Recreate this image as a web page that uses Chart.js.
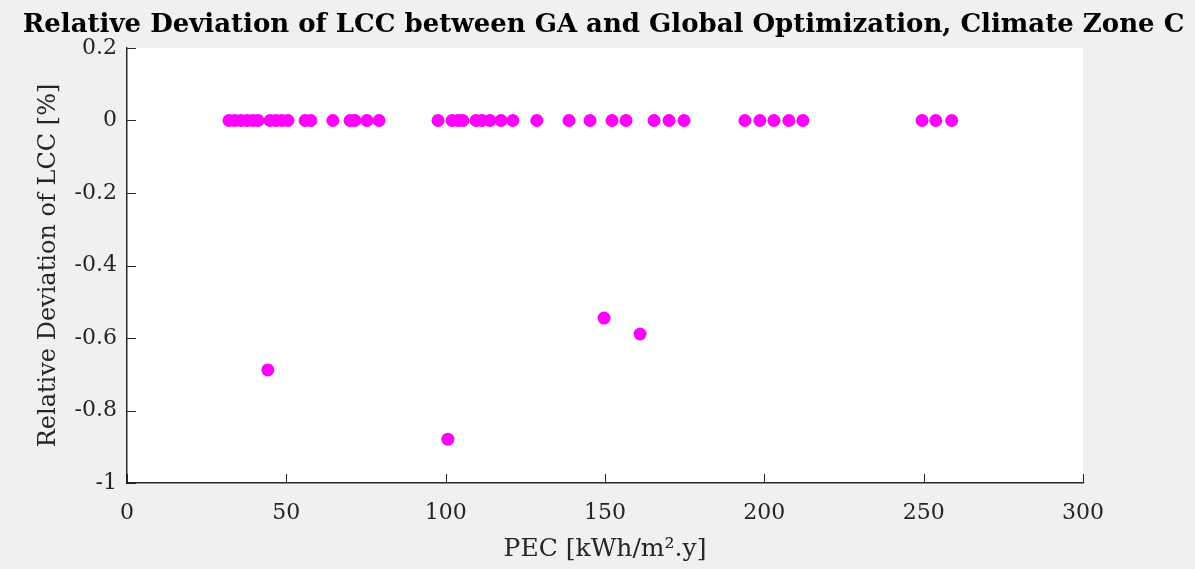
<!DOCTYPE html>
<html>
<head>
<meta charset="utf-8">
<script src="https://cdn.jsdelivr.net/npm/chart.js@4.4.0/dist/chart.umd.min.js"></script>
<style>
    html, body { margin: 0; padding: 0; background: #f0f0f0; }
    #wrap { width: 1195px; height: 569px; }
</style>
</head>
<body>
<div id="wrap"><canvas id="lccChart" width="1195" height="569"></canvas></div>
<script>
// PEC values of the designs where GA matched the global optimum (deviation 0)
const pecMatched = [32.0, 33.9, 35.8, 37.7, 39.5, 41.1, 44.9, 46.8, 48.6, 50.5,
    55.9, 57.7, 64.6, 70.0, 71.5, 75.3, 79.1, 97.6, 102.0, 103.9, 105.4, 109.5,
    111.4, 113.9, 117.4, 121.1, 128.6, 138.7, 145.3, 152.2, 156.6, 165.4, 170.1,
    174.8, 193.9, 198.6, 203.0, 207.7, 212.1, 249.5, 253.8, 258.8];
const devMatched = pecMatched.map(() => 0);

// the few designs where GA missed
const pecMissed = [44.2, 100.7, 149.7, 161.0];
const devMissed = [-0.688, -0.879, -0.545, -0.589];

const xTicks = [0, 50, 100, 150, 200, 250, 300];
const yTicks = [0.2, 0, -0.2, -0.4, -0.6, -0.8, -1];

const chartTitle = 'Relative Deviation of LCC between GA and Global Optimization, Climate Zone C';

const serif = "'DejaVu Serif', 'Liberation Serif', serif";
const axisColor = '#262626';

const points = [];
pecMatched.forEach((x, i) => points.push({ x: x, y: devMatched[i] }));
pecMissed.forEach((x, i) => points.push({ x: x, y: devMissed[i] }));

// white plot area, inward ticks like matlab, and a title centred on the whole figure
const plotArea = {
    id: 'plotArea',
    beforeDraw(chart) {
        const { ctx, chartArea: a } = chart;
        ctx.save();
        ctx.fillStyle = '#ffffff';
        ctx.fillRect(a.left, a.top, a.right - a.left, a.bottom - a.top);
        ctx.restore();
    },
    afterDraw(chart) {
        const { ctx, chartArea: a, scales } = chart;
        ctx.save();
        ctx.strokeStyle = axisColor;
        ctx.lineWidth = 1;
        ctx.beginPath();
        xTicks.forEach(v => {
            const px = Math.round(scales.x.getPixelForValue(v)) + 0.5;
            ctx.moveTo(px, a.bottom);
            ctx.lineTo(px, a.bottom - 9);
        });
        yTicks.forEach(v => {
            const py = Math.round(scales.y.getPixelForValue(v)) + 0.5;
            ctx.moveTo(a.left, py);
            ctx.lineTo(a.left + 9, py);
        });
        ctx.stroke();

        ctx.fillStyle = '#000000';
        ctx.font = 'bold 26px ' + serif;
        ctx.textAlign = 'center';
        ctx.textBaseline = 'middle';
        ctx.fillText(chartTitle, chart.width / 2 + 6, 25);
        ctx.restore();
    }
};

new Chart(document.getElementById('lccChart'), {
    type: 'scatter',
    data: {
        datasets: [{
            data: points,
            backgroundColor: '#ff00ff',
            borderColor: '#ff00ff',
            pointRadius: 6.5,
            pointHoverRadius: 6.5,
            borderWidth: 0
        }]
    },
    options: {
        responsive: false,
        animation: false,
        layout: { padding: { left: 0, right: 112, top: 48, bottom: 0 } },
        plugins: {
            legend: { display: false },
            tooltip: { enabled: false },
            title: { display: false }
        },
        scales: {
            x: {
                type: 'linear',
                min: 0,
                max: 300,
                afterBuildTicks: s => { s.ticks = xTicks.map(v => ({ value: v })); },
                afterFit: s => { s.height = 86; },
                grid: { drawOnChartArea: false, drawTicks: false },
                border: { display: true, color: axisColor, width: 1.5 },
                ticks: {
                    color: axisColor,
                    padding: 17,
                    font: { family: serif, size: 22 }
                },
                title: {
                    display: true,
                    text: 'PEC [kWh/m\u00b2.y]',
                    color: axisColor,
                    font: { family: serif, size: 25, lineHeight: 1.2 },
                    padding: { top: 4, bottom: 5 }
                }
            },
            y: {
                type: 'linear',
                min: -1,
                max: 0.2,
                afterBuildTicks: s => { s.ticks = yTicks.map(v => ({ value: v })); },
                afterFit: s => { s.width = 127; },
                grid: { drawOnChartArea: false, drawTicks: false },
                border: { display: true, color: axisColor, width: 1.5 },
                ticks: {
                    color: axisColor,
                    padding: 10,
                    font: { family: serif, size: 22 },
                    callback: v => String(Number(v.toFixed(1)))
                },
                title: {
                    display: true,
                    text: 'Relative Deviation of LCC [%]',
                    color: axisColor,
                    font: { family: serif, size: 24, lineHeight: 1.2 },
                    padding: { top: 34, bottom: 0 }
                }
            }
        }
    },
    plugins: [plotArea]
});
</script>
</body>
</html>
